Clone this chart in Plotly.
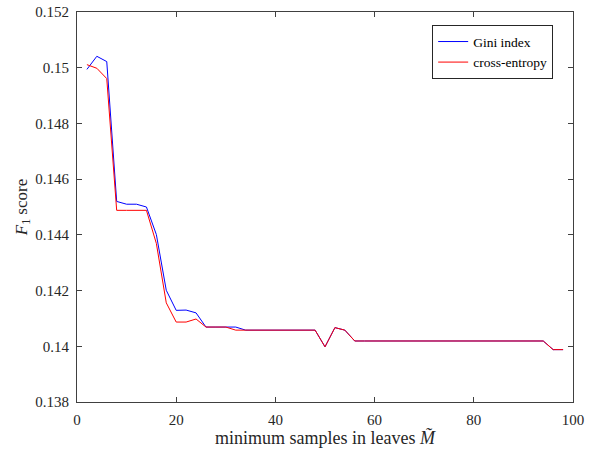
import plotly.graph_objects as go

# minimum samples in leaves
min_samples = list(range(2, 100, 2))

# F1 score for each split criterion
gini_f1 = [
    0.14994, 0.15041, 0.15022, 0.14520, 0.14510, 0.14510, 0.14500, 0.14401,
    0.14201, 0.14129, 0.14130, 0.14120, 0.14069, 0.14069, 0.14069, 0.14069,
    0.14058, 0.14058, 0.14058, 0.14058, 0.14058, 0.14058, 0.14058, 0.14058,
    0.13998, 0.14067, 0.14058, 0.14019, 0.14019, 0.14019, 0.14019, 0.14019,
    0.14019, 0.14019, 0.14019, 0.14019, 0.14019, 0.14019, 0.14019, 0.14019,
    0.14019, 0.14019, 0.14019, 0.14019, 0.14019, 0.14019, 0.14019, 0.13988,
    0.13988,
]
entropy_f1 = [
    0.15011, 0.14998, 0.14961, 0.14488, 0.14488, 0.14488, 0.14488, 0.14369,
    0.14156, 0.14087, 0.14087, 0.14098, 0.14069, 0.14069, 0.14069, 0.14058,
    0.14058, 0.14058, 0.14058, 0.14058, 0.14058, 0.14058, 0.14058, 0.14058,
    0.13998, 0.14067, 0.14058, 0.14019, 0.14019, 0.14019, 0.14019, 0.14019,
    0.14019, 0.14019, 0.14019, 0.14019, 0.14019, 0.14019, 0.14019, 0.14019,
    0.14019, 0.14019, 0.14019, 0.14019, 0.14019, 0.14019, 0.14019, 0.13988,
    0.13988,
]

x_ticks = [0, 20, 40, 60, 80, 100]
y_ticks = [0.138, 0.14, 0.142, 0.144, 0.146, 0.148, 0.15, 0.152]
y_tick_labels = ["0.138", "0.14", "0.142", "0.144", "0.146", "0.148", "0.15", "0.152"]

FONT = "Liberation Serif"
AXIS_COLOR = "#404040"
TEXT_COLOR = "#262626"

fig = go.Figure()
fig.add_trace(go.Scatter(
    x=min_samples, y=gini_f1, mode="lines", name="Gini index",
    line=dict(color="#0000ff", width=1),
))
fig.add_trace(go.Scatter(
    x=min_samples, y=entropy_f1, mode="lines", name="cross-entropy",
    line=dict(color="#ff0000", width=1),
))

axis_common = dict(
    showline=True, linecolor=AXIS_COLOR, linewidth=1, mirror="ticks",
    ticks="inside", ticklen=5, tickcolor=AXIS_COLOR, tickwidth=1,
    showgrid=False, zeroline=False, automargin=False,
    tickfont=dict(family=FONT, size=15, color=TEXT_COLOR),
)

fig.update_xaxes(
    range=[0, 100], tickvals=x_ticks, ticktext=[str(v) for v in x_ticks],
    ticklabelstandoff=4,
    title=dict(text="minimum samples in leaves <i>M\u0303</i>",
               font=dict(family=FONT, size=18, color=TEXT_COLOR), standoff=3),
    **axis_common,
)
fig.update_yaxes(
    range=[0.138, 0.152], tickvals=y_ticks, ticktext=y_tick_labels,
    ticklabelstandoff=4,
    title=dict(text="<i>F</i><sub>1</sub> score",
               font=dict(family=FONT, size=17, color=TEXT_COLOR), standoff=3),
    **axis_common,
)

fig.update_layout(
    width=594, height=453,
    margin=dict(l=77, r=21, t=12, b=51),
    paper_bgcolor="white", plot_bgcolor="white",
    showlegend=True,
    legend=dict(
        x=0.96, y=0.966, xanchor="right", yanchor="top",
        bgcolor="white", bordercolor="#262626", borderwidth=1,
        font=dict(family=FONT, size=13.5, color="#000000"),
        tracegroupgap=0,
    ),
)

fig.write_html("out.html")
